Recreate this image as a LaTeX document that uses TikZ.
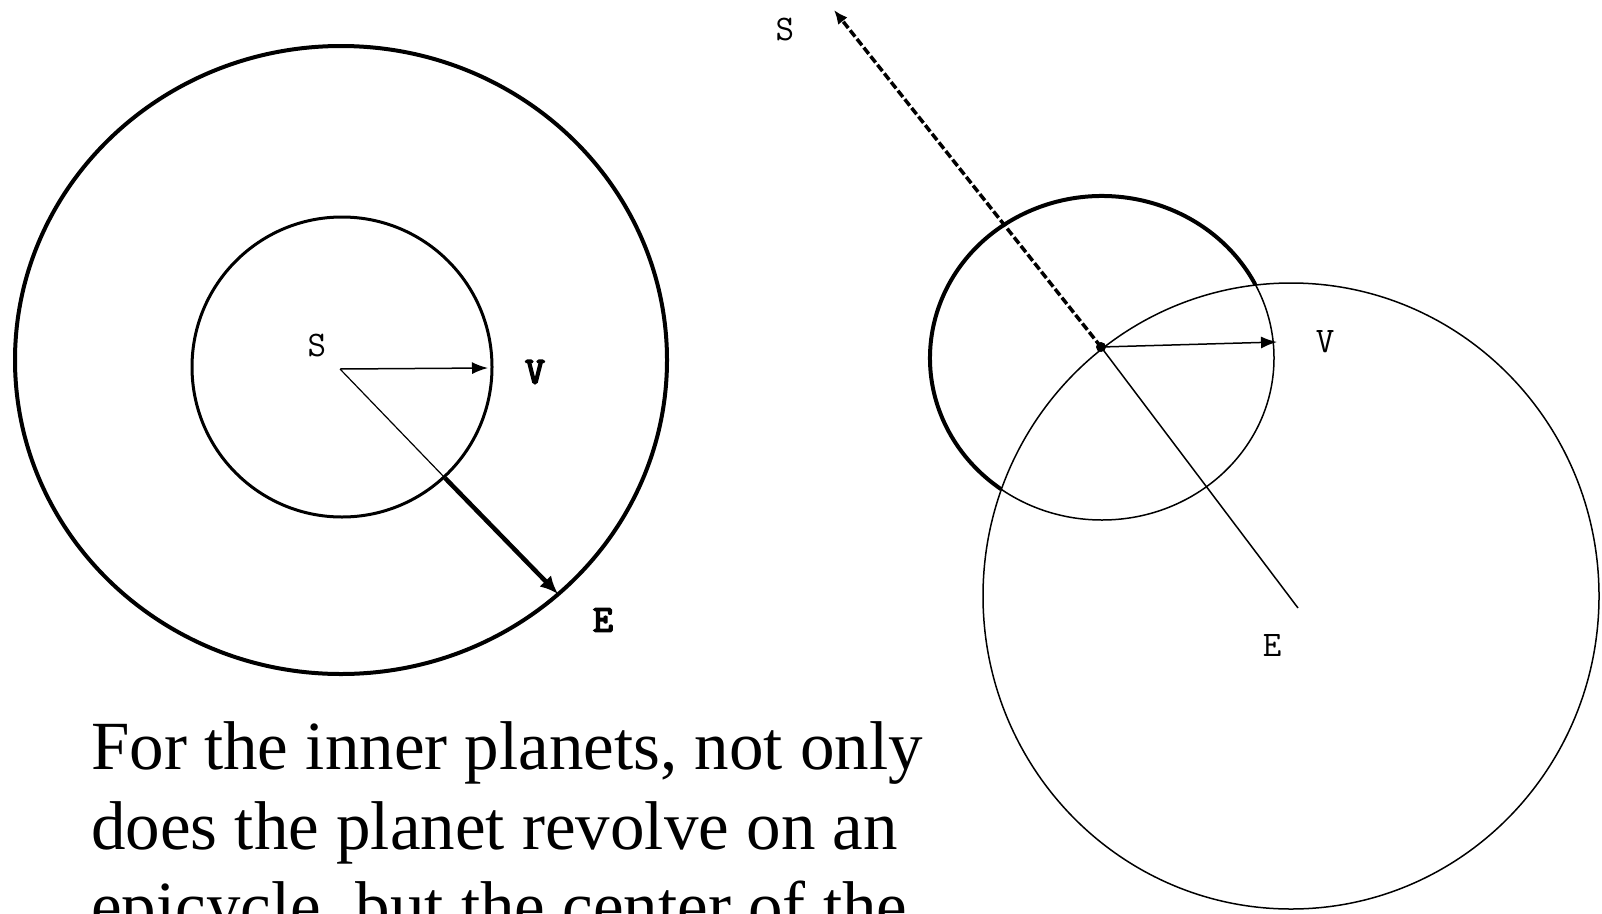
\documentclass[tikz,border=0pt]{standalone}
\usepackage{fontspec}
\setmainfont{Liberation Serif}
\newfontfamily\bmono[FakeBold=4]{lmmono10-regular.otf}
\usetikzlibrary{arrows.meta}
\tikzset{
  thickline/.style={line width=4pt},
  thinline/.style={line width=1.5pt},
  arr/.style={-{Latex[length=16pt,width=12pt]}},
  lbl/.style={font=\ttfamily\fontsize{36}{36}\selectfont, inner sep=0pt},
  blbl/.style={font=\bmono\fontsize{38}{38}\selectfont, inner sep=0pt},
  caption/.style={font=\fontsize{69}{80}\selectfont, inner sep=0pt, anchor=base west},
}
\begin{document}
\begin{tikzpicture}[x=1pt,y=-1pt]
\useasboundingbox (0,0) rectangle (1602,913);
\clip (0,0) rectangle (1602,913);
% ---- left diagram ----
\draw[thickline] (341,360) ellipse [x radius=326, y radius=314];
\draw[line width=3pt] (342,367) circle [radius=150];
\coordinate (LS) at (340,369);
\coordinate (LV) at (488,368);
\coordinate (LX) at (445,478);
\coordinate (LE) at (558,594);
\node[lbl] (ls) at (317,345) {S};
\node[blbl] (lv) at (535,372) {V};
\node[blbl] (le) at (603,620) {E};
\draw[thinline,arr] (LS) -- (LV);
\draw[line width=1.2pt] (LS) -- (LX);
\draw[line width=4.5pt,-{Latex[length=18pt,width=16pt]}] (LX) -- (LE);
% ---- right diagram ----
\draw[thinline] (1291,596) ellipse [x radius=308, y radius=313];
\draw[thinline] (1102,358) ellipse [x radius=172, y radius=162];
\draw[thickline] ([shift={(-27:172 and 162)}]1102,358) arc[start angle=-27, end angle=-234, x radius=172, y radius=162];
\coordinate (RC) at (1101,347);
\coordinate (RS) at (834,10);
\coordinate (RV) at (1277,342);
\coordinate (RE) at (1298,608);
\node[lbl] (rs) at (785,30) {S};
\node[lbl] (rv) at (1325,342) {V};
\node[lbl] (re) at (1272,645) {E};
\draw[line width=3.5pt, dash pattern=on 8pt off 3pt, -{Latex[length=14pt,width=12pt]}] (RC) -- (RS);
\draw[thinline,arr] (RC) -- (RV);
\draw[thinline] (RC) -- (RE);
\fill (RC) circle [radius=5];
% ---- caption ----
\node[caption] (t1) at (91,769) {For the inner planets, not only};
\node[caption] (t2) at (91,849) {does the planet revolve on an};
\node[caption] (t3) at (91,929) {epicycle, but the center of the};
\end{tikzpicture}
\end{document}
